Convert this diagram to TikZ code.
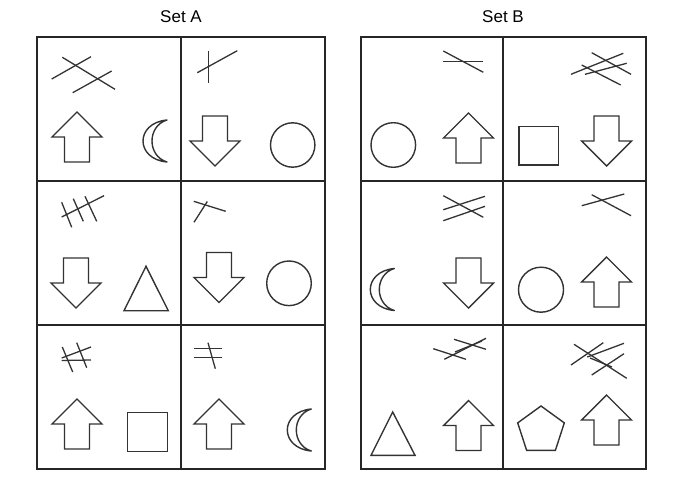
\documentclass[tikz,border=0pt]{standalone}
\usepackage{fontspec}
\setmainfont{Liberation Sans}
\begin{document}
\begin{tikzpicture}[x=1pt,y=-1pt,
  frame/.style={line width=2pt,draw=black!85},
  shp/.style={line width=1.4pt,draw=black!80,line join=miter},
  ln/.style={line width=1.3pt,draw=black!80},
  title/.style={font=\fontsize{17}{19}\selectfont},
  uparr/.pic={\draw[shp] (0,-25) -- (25,0) -- (12.5,0) -- (12.5,25) -- (-12.5,25) -- (-12.5,0) -- (-25,0) -- cycle;},
  downarr/.pic={\draw[shp] (0,25) -- (25,0) -- (12.5,0) -- (12.5,-25) -- (-12.5,-25) -- (-12.5,0) -- (-25,0) -- cycle;},
  moon/.pic={\draw[shp,line join=round] (0,-21) .. controls (-32,-18) and (-32,18) .. (0,21) .. controls (-20,15) and (-20,-15) .. (0,-21) -- cycle;}
]
\useasboundingbox (0,0) rectangle (679,489);
% titles
\node[title] (ta) at (181,17) {Set A};
\node[title] (tb) at (503,17) {Set B};
% frames
\draw[frame] (37,37) rectangle (325,469);
\draw[frame] (181,37) -- (181,469);
\draw[frame] (37,181) -- (325,181);
\draw[frame] (37,325) -- (325,325);
\draw[frame] (360.5,37) rectangle (646,469);
\draw[frame] (503,37) -- (503,469);
\draw[frame] (360.5,181) -- (646,181);
\draw[frame] (360.5,325) -- (646,325);
% ---------- Set A ----------
% A1
\draw[ln] (51.7,79) -- (91,56.7);
\draw[ln] (62.3,57.3) -- (115,89.3);
\draw[ln] (72.7,92.7) -- (111.7,71);
\pic at (77,137) {uparr};
\pic at (167,141) {moon};
% A2
\draw[ln] (208.7,50.7) -- (208.7,82.7);
\draw[ln] (197.3,72.7) -- (237.3,50.7);
\pic at (215,141) {downarr};
\draw[shp] (292.7,145) circle[radius=22.2pt];
% A3
\draw[ln] (61.7,217) -- (104,195.7);
\draw[ln] (61.7,202.3) -- (71.7,227.3);
\draw[ln] (73.3,198.7) -- (83.3,221.3);
\draw[ln] (85,196.3) -- (96.7,221.3);
\pic at (76,283) {downarr};
\draw[shp] (146,266.3) -- (168.3,310.7) -- (124,310.7) -- cycle;
% A4
\draw[ln] (193.7,201.3) -- (225.7,211.3);
\draw[ln] (207.3,201.5) -- (194,222.3);
\pic at (219,277.5) {downarr};
\draw[shp] (289,283.3) circle[radius=22.3pt];
% A5
\draw[ln] (61.7,358) -- (91,347);
\draw[ln] (61.7,360.5) -- (91,360);
\draw[ln] (62.3,347) -- (72.7,372);
\draw[ln] (76.7,342.7) -- (86.7,367.7);
\pic at (77,424) {uparr};
\draw[shp] (127.7,412.7) rectangle (167.3,451.7);
% A6
\draw[ln] (193.7,348.3) -- (222.3,348.3);
\draw[ln] (193.7,357.7) -- (222.3,357.7);
\draw[ln] (208,342.7) -- (215.3,368.7);
\pic at (219,424) {uparr};
\pic at (311.3,430) {moon};
% ---------- Set B ----------
% B1
\draw[ln] (443.3,61.7) -- (483.3,61.7);
\draw[ln] (443.3,51) -- (483.3,72.3);
\draw[shp] (393.3,145) circle[radius=22.3pt];
\pic at (468.5,138) {uparr};
% B2
\draw[ln] (571,74.3) -- (623.3,53.3);
\draw[ln] (585,74.3) -- (626.7,63.3);
\draw[ln] (591.7,52.7) -- (631,74.3);
\draw[ln] (581.7,65) -- (620.7,85);
\draw[shp] (519,126.7) rectangle (558.3,165);
\pic at (606.5,141) {downarr};
% B3
\draw[ln] (443.3,209.7) -- (485,196.3);
\draw[ln] (443.3,220.7) -- (485,206.3);
\draw[ln] (443.3,195.7) -- (483.3,217.3);
\pic at (394.3,289.5) {moon};
\pic at (468.5,283) {downarr};
% B4
\draw[ln] (581.7,205.7) -- (624.3,194);
\draw[ln] (591.7,194.7) -- (631,215.7);
\draw[shp] (541,289.7) circle[radius=22.5pt];
\pic at (606.5,282) {uparr};
% B5
\draw[ln] (454,339.3) -- (486,349.3);
\draw[ln] (433.3,348.7) -- (466,359.3);
\draw[ln] (444.3,359.3) -- (486,338.3);
\draw[ln] (455,352) -- (482,341);
\draw[shp] (392.7,412) -- (415,455.3) -- (371,455.3) -- cycle;
\pic at (468.5,425.5) {uparr};
% B6
\draw[ln] (574,344.3) -- (626.7,378.3);
\draw[ln] (571,365) -- (603.3,342.7);
\draw[ln] (591.7,375) -- (624,353.7);
\draw[ln] (587.3,357) -- (624,343.3);
\draw[ln] (590,358) -- (612,367);
\draw[shp] (541,406) -- (564.3,422.9) -- (555.4,450.3) -- (526.6,450.3) -- (517.7,422.9) -- cycle;
\pic at (606.5,420) {uparr};
\end{tikzpicture}
\end{document}
